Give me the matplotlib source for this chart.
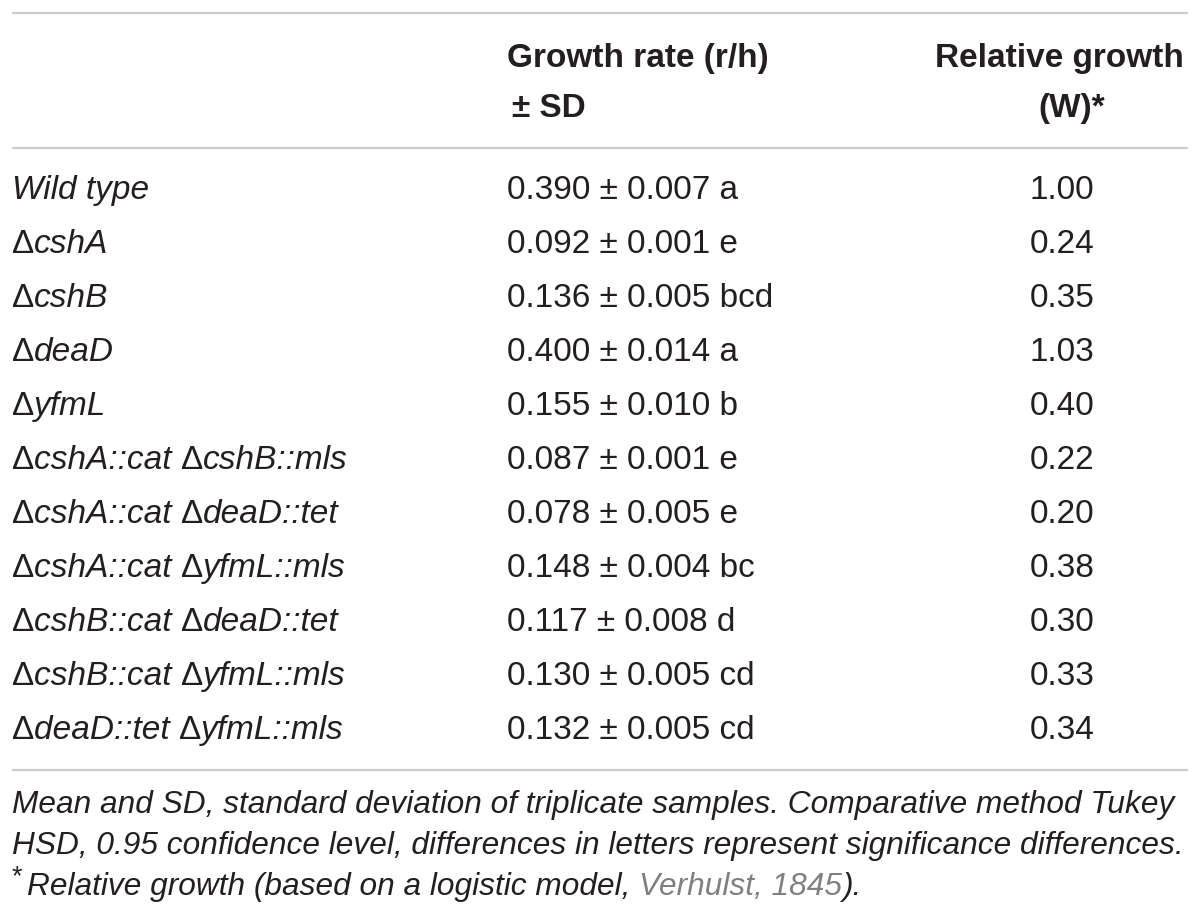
import matplotlib
matplotlib.use("Agg")
import matplotlib.pyplot as plt

# table contents
strains = [
    [("Wild type", "it")],
    [("\u0394", "rm"), ("cshA", "it")],
    [("\u0394", "rm"), ("cshB", "it")],
    [("\u0394", "rm"), ("deaD", "it")],
    [("\u0394", "rm"), ("yfmL", "it")],
    [("\u0394", "rm"), ("cshA::cat ", "it"), ("\u0394", "rm"), ("cshB::mls", "it")],
    [("\u0394", "rm"), ("cshA::cat ", "it"), ("\u0394", "rm"), ("deaD::tet", "it")],
    [("\u0394", "rm"), ("cshA::cat ", "it"), ("\u0394", "rm"), ("yfmL::mls", "it")],
    [("\u0394", "rm"), ("cshB::cat ", "it"), ("\u0394", "rm"), ("deaD::tet", "it")],
    [("\u0394", "rm"), ("cshB::cat ", "it"), ("\u0394", "rm"), ("yfmL::mls", "it")],
    [("\u0394", "rm"), ("deaD::tet ", "it"), ("\u0394", "rm"), ("yfmL::mls", "it")],
]
rate = [0.390, 0.092, 0.136, 0.400, 0.155, 0.087, 0.078, 0.148, 0.117, 0.130, 0.132]
sd = [0.007, 0.001, 0.005, 0.014, 0.010, 0.001, 0.005, 0.004, 0.008, 0.005, 0.005]
groups = ["a", "e", "bcd", "a", "b", "e", "e", "bc", "d", "cd", "cd"]
rel_growth = [1.00, 0.24, 0.35, 1.03, 0.40, 0.22, 0.20, 0.38, 0.30, 0.33, 0.34]

header_rate = ["Growth rate (r/h)", "\u00b1 SD"]
header_rel = ["Relative growth", "(W)*"]
note_lines = [
    "Mean and SD, standard deviation of triplicate samples. Comparative method Tukey",
    "HSD, 0.95 confidence level, differences in letters represent significance differences.",
]
note_star = [("Relative growth (based on a logistic model, ", "it"),
             ("Verhulst, 1845", "it_grey"), (").", "it")]

FONT = "Liberation Sans"
FS = 24
FS_NOTE = 22.8
TXT = "#231f20"

fig = plt.figure(figsize=(12, 9.18), dpi=100)
ax = fig.add_axes([0, 0, 1, 1])
ax.set_xlim(0, 1200)
ax.set_ylim(918, 0)
ax.axis("off")

for y in (13, 148, 770):
    ax.plot([12, 1188], [y, y], color="#cccccc", lw=1.6, solid_capstyle="butt")

hdr = dict(fontsize=FS, fontweight="bold", family=FONT, color=TXT, va="baseline")
ax.text(507, 67, header_rate[0], ha="left", **hdr)
ax.text(512, 117, header_rate[1], ha="left", **hdr)
ax.text(1184, 67, header_rel[0], ha="right", **hdr)
ax.text(1072, 117, header_rel[1], ha="center", **hdr)


def styled(style, size=FS):
    kw = dict(fontsize=size, family=FONT, color=TXT)
    if style.startswith("it"):
        kw["style"] = "italic"
    if style == "it_grey":
        kw["color"] = "#808080"
    return kw


def chain(x, y, pieces, size=FS):
    prev = None
    for piece, style in pieces:
        kw = styled(style, size)
        if prev is None:
            prev = ax.text(x, y, piece, va="baseline", ha="left", **kw)
        else:
            prev = ax.annotate(piece, xy=(1, 0), xycoords=prev, va="bottom",
                               ha="left", **kw)
    return prev


row_y0 = 199
row_step = 54
for i, pieces in enumerate(strains):
    y = row_y0 + i * row_step
    chain(12, y, pieces)
    ax.text(507, y, f"{rate[i]:.3f} \u00b1 {sd[i]:.3f} {groups[i]}", fontsize=FS,
            family=FONT, color=TXT, va="baseline", ha="left")
    ax.text(1062, y, f"{rel_growth[i]:.2f}", fontsize=FS, family=FONT, color=TXT,
            va="baseline", ha="center")

for j, line in enumerate(note_lines):
    ax.text(12, 813 + j * 41, line, fontsize=FS_NOTE, family=FONT, color=TXT,
            style="italic", va="baseline", ha="left")

# footnote with superscript star
ax.text(12, 884, "*", fontsize=FS_NOTE * 0.85, family=FONT, color=TXT,
        va="baseline", ha="left")
chain(27, 895, note_star, size=FS_NOTE)

fig.savefig("out.png", dpi=100)
